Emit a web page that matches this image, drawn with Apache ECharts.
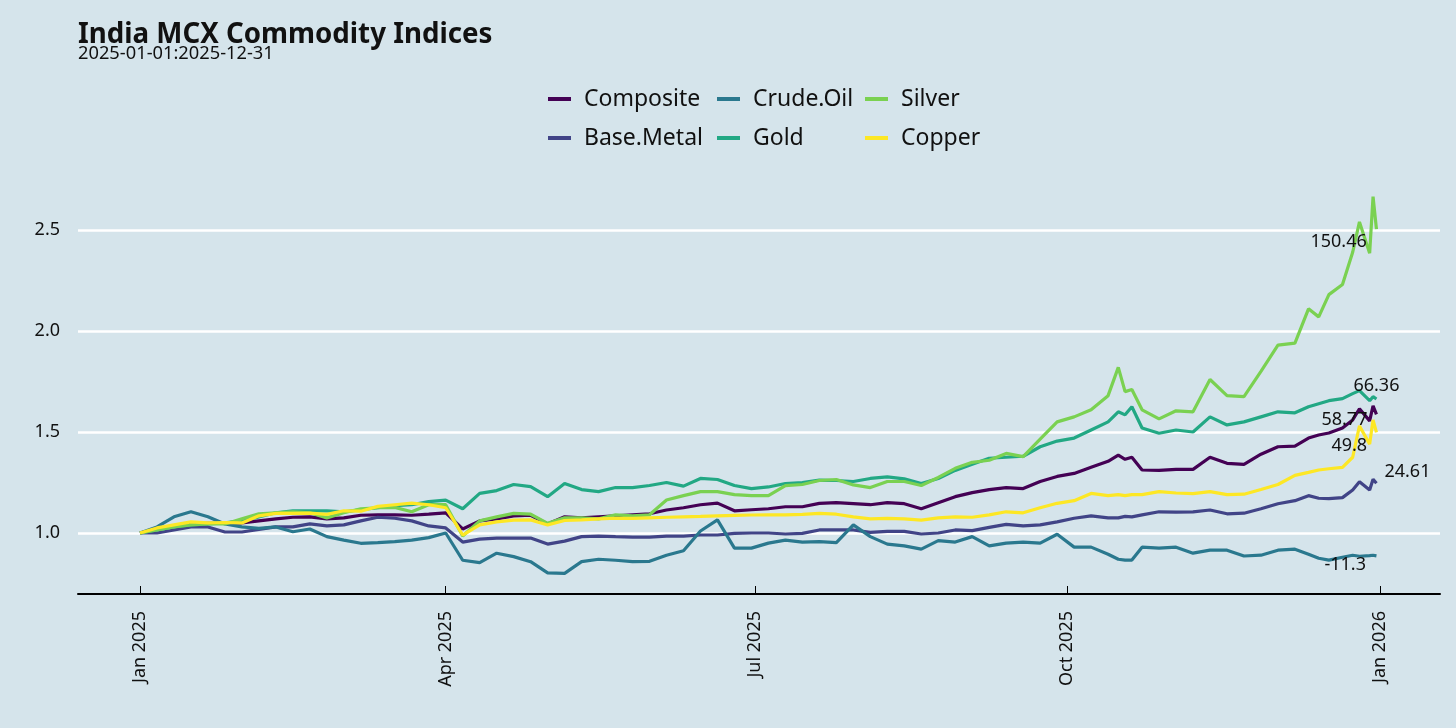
<!DOCTYPE html>
<html>
<head>
<meta charset="utf-8">
<script src="https://cdn.jsdelivr.net/npm/echarts@6/dist/echarts.min.js"></script>
<style>
  html, body { margin:0; padding:0; background:#d5e4eb; }
  #chart { width:1456px; height:728px; }
</style>
</head>
<body>
<div id="chart"></div>
<script>
const dates = [
 '2025-01-01','2025-01-06','2025-01-11','2025-01-16','2025-01-21','2025-01-26','2025-01-31',
 '2025-02-05','2025-02-10','2025-02-15','2025-02-20','2025-02-25',
 '2025-03-02','2025-03-07','2025-03-12','2025-03-17','2025-03-22','2025-03-27',
 '2025-04-01','2025-04-06','2025-04-11','2025-04-16','2025-04-21','2025-04-26',
 '2025-05-01','2025-05-06','2025-05-11','2025-05-16','2025-05-21','2025-05-26','2025-05-31',
 '2025-06-05','2025-06-10','2025-06-15','2025-06-20','2025-06-25','2025-06-30',
 '2025-07-05','2025-07-10','2025-07-15','2025-07-20','2025-07-25','2025-07-30',
 '2025-08-04','2025-08-09','2025-08-14','2025-08-19','2025-08-24','2025-08-29',
 '2025-09-03','2025-09-08','2025-09-13','2025-09-18','2025-09-23','2025-09-28',
 '2025-10-03','2025-10-08','2025-10-13','2025-10-16','2025-10-18','2025-10-20','2025-10-23','2025-10-28',
 '2025-11-02','2025-11-07','2025-11-12','2025-11-17','2025-11-22','2025-11-27',
 '2025-12-02','2025-12-07','2025-12-11','2025-12-14','2025-12-17','2025-12-21','2025-12-24',
 '2025-12-26','2025-12-29','2025-12-30','2025-12-31'
];

const composite = [
 1.0,1.02,1.035,1.045,1.048,1.048,1.05,
 1.06,1.07,1.078,1.08,1.07,
 1.075,1.088,1.09,1.09,1.088,1.093,
 1.10,1.02,1.06,1.07,1.085,1.088,
 1.045,1.08,1.075,1.08,1.085,1.09,1.095,
 1.114,1.125,1.14,1.148,1.11,1.115,
 1.12,1.13,1.13,1.147,1.15,1.145,
 1.14,1.15,1.145,1.12,1.15,1.18,
 1.2,1.215,1.225,1.22,1.255,1.28,
 1.295,1.325,1.355,1.385,1.365,1.375,1.312,1.31,
 1.315,1.315,1.375,1.345,1.34,1.39,
 1.427,1.43,1.47,1.485,1.495,1.52,1.56,
 1.615,1.555,1.63,1.5877
];
const baseMetal = [
 1.0,1.0,1.015,1.03,1.03,1.005,1.005,
 1.018,1.03,1.03,1.045,1.035,
 1.04,1.06,1.078,1.073,1.06,1.035,
 1.025,0.955,0.97,0.975,0.975,0.975,
 0.945,0.96,0.982,0.985,0.982,0.98,0.98,
 0.985,0.985,0.99,0.99,0.998,1.0,
 1.0,0.995,0.998,1.015,1.015,1.015,
 1.003,1.008,1.008,0.995,1.0,1.015,
 1.012,1.028,1.043,1.035,1.04,1.055,
 1.073,1.085,1.075,1.075,1.082,1.08,1.09,1.105,
 1.103,1.105,1.114,1.095,1.098,1.12,
 1.145,1.16,1.185,1.172,1.17,1.175,1.213,
 1.254,1.213,1.266,1.2461
];
const crudeOil = [
 1.0,1.03,1.08,1.105,1.08,1.045,1.03,
 1.023,1.03,1.006,1.02,0.982,
 0.965,0.949,0.952,0.957,0.965,0.977,
 1.0,0.865,0.853,0.90,0.883,0.858,
 0.803,0.80,0.858,0.87,0.865,0.858,0.86,
 0.89,0.912,1.01,1.065,0.925,0.925,
 0.95,0.965,0.955,0.957,0.952,1.04,
 0.982,0.945,0.936,0.92,0.962,0.955,
 0.982,0.936,0.95,0.955,0.95,0.994,
 0.93,0.93,0.895,0.87,0.866,0.866,0.93,0.925,
 0.93,0.90,0.915,0.915,0.886,0.89,
 0.915,0.92,0.895,0.875,0.866,0.88,0.89,
 0.885,0.888,0.89,0.887
];
const gold = [
 1.0,1.015,1.03,1.04,1.045,1.05,1.06,
 1.08,1.1,1.11,1.11,1.11,
 1.105,1.115,1.125,1.135,1.14,1.155,
 1.163,1.12,1.196,1.21,1.24,1.23,
 1.18,1.245,1.215,1.205,1.225,1.225,1.235,
 1.25,1.232,1.27,1.265,1.235,1.22,
 1.228,1.245,1.25,1.262,1.26,1.255,
 1.27,1.278,1.268,1.245,1.27,1.31,
 1.34,1.37,1.375,1.38,1.427,1.455,
 1.47,1.51,1.55,1.60,1.585,1.625,1.52,1.494,
 1.51,1.50,1.575,1.535,1.55,1.575,
 1.60,1.595,1.625,1.64,1.655,1.665,1.69,
 1.705,1.655,1.675,1.6636
];
const silver = [
 1.0,1.015,1.03,1.04,1.045,1.045,1.07,
 1.095,1.1,1.105,1.1,1.075,
 1.1,1.12,1.125,1.127,1.105,1.14,
 1.14,0.985,1.06,1.08,1.097,1.093,
 1.048,1.075,1.075,1.07,1.09,1.085,1.09,
 1.163,1.185,1.205,1.205,1.19,1.185,
 1.185,1.235,1.24,1.26,1.265,1.238,
 1.225,1.255,1.255,1.235,1.275,1.32,
 1.35,1.36,1.394,1.378,1.465,1.55,
 1.575,1.61,1.68,1.82,1.70,1.71,1.61,1.565,
 1.605,1.60,1.76,1.68,1.675,1.80,
 1.93,1.94,2.11,2.07,2.18,2.23,2.39,
 2.54,2.385,2.665,2.5046
];
const copper = [
 1.0,1.025,1.04,1.055,1.05,1.052,1.05,
 1.085,1.097,1.097,1.098,1.092,
 1.11,1.108,1.132,1.14,1.148,1.14,
 1.125,0.99,1.04,1.055,1.064,1.065,
 1.04,1.062,1.065,1.07,1.073,1.072,1.075,
 1.078,1.08,1.082,1.085,1.087,1.089,
 1.09,1.09,1.092,1.097,1.093,1.08,
 1.07,1.072,1.07,1.064,1.075,1.08,
 1.078,1.09,1.105,1.1,1.125,1.147,
 1.16,1.196,1.185,1.19,1.185,1.19,1.19,1.205,
 1.198,1.195,1.205,1.19,1.192,1.215,
 1.24,1.285,1.30,1.312,1.318,1.325,1.375,
 1.53,1.44,1.56,1.498
];

const seriesNames = ['Composite','Base.Metal','Crude.Oil','Gold','Silver','Copper'];
const seriesValues = [composite, baseMetal, crudeOil, gold, silver, copper];
const yTicks = [1.0, 1.5, 2.0, 2.5];
const xTickDates = ['2025-01-01','2025-04-01','2025-07-01','2025-10-01','2026-01-01'];
const xTickLabels = ['Jan 2025','Apr 2025','Jul 2025','Oct 2025','Jan 2026'];
const xRange = ['2024-12-13 18:00', '2026-01-18 17:00'];

// styling
const colors = ['#440154','#414487','#2A788E','#22A884','#7AD151','#FDE725'];
const labelOffsets = [[-55,6],[8,-11.5],[-52,9.5],[-23,-13],[-66,12.5],[-45,13]];
const FONT = 'Noto Sans';
const TXT = '#111111';

function ts(s){
  const m = s.match(/^(\d+)-(\d+)-(\d+)(?:\s+(\d+):(\d+))?$/);
  return new Date(+m[1], +m[2]-1, +m[3], m[4] ? +m[4] : 0, m[5] ? +m[5] : 0).getTime();
}
const tickTs = xTickDates.map(ts);

const chart = echarts.init(document.getElementById('chart'), null, {renderer:'canvas'});

const legendCommon = {
  orient:'vertical', top:86, padding:0, icon:'rect', itemWidth:23, itemHeight:4, itemGap:13,
  selectedMode:false,
  textStyle:{fontSize:23, fontFamily:FONT, color:TXT, lineHeight:26, padding:[0,0,0,8]}
};

const option = {
  backgroundColor:'#d5e4eb',
  animation:false,
  title:[
    {text:'India MCX Commodity Indices', left:78, top:21, padding:0,
     textStyle:{fontSize:27.7, fontWeight:'bold', fontFamily:FONT, color:TXT}},
    {text:'2025-01-01:2025-12-31', left:78, top:45, padding:0,
     textStyle:{fontSize:18.3, fontWeight:'normal', fontFamily:FONT, color:TXT}}
  ],
  legend:[
    Object.assign({left:548, data:seriesNames.slice(0,2)}, legendCommon),
    Object.assign({left:717, data:seriesNames.slice(2,4)}, legendCommon),
    Object.assign({left:865, data:seriesNames.slice(4,6)}, legendCommon)
  ],
  grid:{left:78, right:16, top:177.5, bottom:134, containLabel:false, outerBoundsMode:'none'},
  xAxis:{
    type:'value',
    min:ts(xRange[0]), max:ts(xRange[1]),
    axisLine:{show:true, lineStyle:{color:'#000', width:2}},
    axisTick:{show:true, inside:true, length:8, lineStyle:{color:'#000', width:1}, customValues:tickTs},
    axisLabel:{show:true, rotate:90, margin:17, fontSize:18, fontFamily:FONT, color:TXT,
      customValues:tickTs,
      formatter:function(v){ const k = tickTs.indexOf(v); return k >= 0 ? xTickLabels[k] : ''; }},
    splitLine:{show:false}
  },
  yAxis:{
    type:'value', min:0.698, max:2.76,
    axisLine:{show:false},
    axisTick:{show:false, customValues:yTicks},
    axisLabel:{show:true, margin:18, fontSize:18, fontFamily:FONT, color:TXT,
      customValues:yTicks, formatter:function(v){ return v.toFixed(1); }},
    splitLine:{show:true, lineStyle:{color:'#ffffff', width:2.5}}
  },
  series: seriesNames.map(function(name, i){
    const vals = seriesValues[i];
    const last = vals[vals.length-1];
    const pct = parseFloat(((last - 1) * 100).toFixed(2));
    return {
      name:name, type:'line', showSymbol:false, symbol:'none', z:2+i,
      data: dates.map(function(d, j){ return [ts(d), vals[j]]; }),
      lineStyle:{width:3.2, color:colors[i]}, itemStyle:{color:colors[i]},
      emphasis:{disabled:true},
      endLabel:{show:true, distance:0, offset:labelOffsets[i], formatter:function(){ return String(pct); },
        fontSize:18, fontFamily:FONT, color:TXT}
    };
  })
};
chart.setOption(option);
</script>
</body>
</html>
